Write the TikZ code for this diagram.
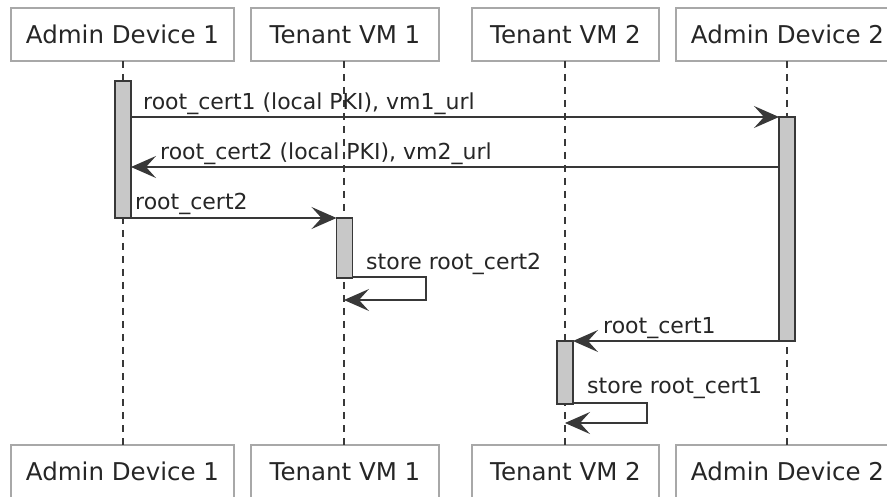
\documentclass[tikz,border=0pt]{standalone}
\usepackage{fontspec}
\setmainfont{DejaVu Sans}
\usetikzlibrary{arrows.meta}
\definecolor{boxborder}{HTML}{A8A8A8}
\definecolor{linec}{HTML}{383838}
\definecolor{actfill}{HTML}{C8C8C8}
\begin{document}
\begin{tikzpicture}[x=1pt,y=-1pt,
  part/.style={draw=boxborder,line width=1.5pt,fill=white,minimum height=53pt,inner sep=0pt,outer sep=0pt,font=\fontsize{24.5}{28}\selectfont,text=black!85},
  act/.style={draw=linec,line width=1.5pt,fill=actfill,minimum width=16pt,inner sep=0pt,outer sep=0pt},
  life/.style={draw=linec,line width=1.2pt,dash pattern=on 7pt off 6pt},
  msg/.style={draw=linec,line width=1.2pt,-{Stealth[length=25pt,width=22pt,inset=10pt]}},
  lbl/.style={anchor=base west,inner sep=0pt,font=\fontsize{22}{26}\selectfont,text=black!85}]
\useasboundingbox (0,0) rectangle (887,497);
% top participants
\node[part,minimum width=223pt] (a1t) at (122.5,34.5) {Admin Device 1};
\node[part,minimum width=188pt] (v1t) at (345,34.5) {Tenant VM 1};
\node[part,minimum width=187pt] (v2t) at (565.5,34.5) {Tenant VM 2};
\node[part,minimum width=223pt] (a2t) at (787.5,34.5) {Admin Device 2};
% bottom participants
\node[part,minimum width=223pt] (a1b) at (122.5,471.5) {Admin Device 1};
\node[part,minimum width=188pt] (v1b) at (345,471.5) {Tenant VM 1};
\node[part,minimum width=187pt] (v2b) at (565.5,471.5) {Tenant VM 2};
\node[part,minimum width=223pt] (a2b) at (787.5,471.5) {Admin Device 2};
% lifelines
\draw[life] (a1t.south -| 123,0) -- (a1b.north -| 123,0);
\draw[life] (v1t.south -| 344,0) -- (v1b.north -| 344,0);
\draw[life] (v2t.south -| 565,0) -- (v2b.north -| 565,0);
\draw[life] (a2t.south -| 787,0) -- (a2b.north -| 787,0);
% activations
\node[act,minimum height=137pt] (act1) at (123,149.5) {};
\node[act,minimum height=224pt] (act2) at (787,229) {};
\node[act,minimum height=60pt] (act3) at (344.5,248) {};
\node[act,minimum height=63pt] (act4) at (565,372.5) {};
% messages
\draw[msg] (act1.east |- act2.north) -- (act2.north west);
\node[lbl] (l1) at (143,110) {root\_cert1 (local PKI), vm1\_url};
\draw[msg] (act2.west |- 0,167) -- (act1.east |- 0,167);
\node[lbl] (l2) at (160,160) {root\_cert2 (local PKI), vm2\_url};
\draw[msg] (act1.south east) -- (act3.north west);
\node[lbl] (l3) at (135,210) {root\_cert2};
\draw[msg] (act3.east |- 0,277) -- (426,277) -- (426,300) -- (344,300);
\node[lbl] (l4) at (366,270) {store root\_cert2};
\draw[msg] (act2.south west) -- (act4.north east);
\node[lbl] (l5) at (603,334) {root\_cert1};
\draw[msg] (act4.east |- 0,403) -- (647,403) -- (647,423) -- (565,423);
\node[lbl] (l6) at (587,393) {store root\_cert1};
\end{tikzpicture}
\end{document}
